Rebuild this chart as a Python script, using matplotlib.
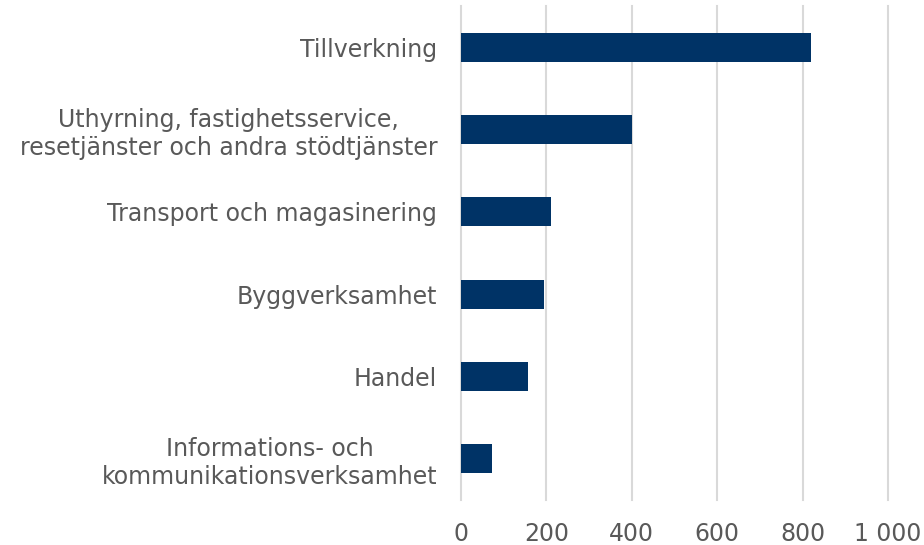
import matplotlib.pyplot as plt
import numpy as np

categories = [
    'Tillverkning',
    'Uthyrning, fastighetsservice,\nresetjänster och andra stödtjänster',
    'Transport och magasinering',
    'Byggverksamhet',
    'Handel',
    'Informations- och\nkommunikationsverksamhet',
]
values = [820, 401, 210, 195, 158, 73]
xticks = [0, 200, 400, 600, 800, 1000]
xtick_labels = ['0', '200', '400', '600', '800', '1 000']

text_col = '#595959'
bar_col = '#003366'

fig = plt.figure(figsize=(9.24, 5.45), dpi=100)
ax = fig.add_axes([0.4989, 0.0826, 0.4621, 0.9064])

y = np.arange(len(categories))
ax.barh(y, values, height=0.35, color=bar_col, zorder=3)
ax.set_ylim(len(categories) - 0.5, -0.5)
ax.set_xlim(0, 1000)

ax.set_xticks(xticks)
ax.set_xticklabels(xtick_labels, fontsize=17, color=text_col)
ax.set_yticks(y)
ax.set_yticklabels(categories, fontsize=17, color=text_col)
for t in ax.get_yticklabels():
    t.set_multialignment('center')
    t.set_linespacing(1.2)

ax.tick_params(axis='x', length=0, pad=16)
ax.tick_params(axis='y', length=0, pad=17)
ax.grid(axis='x', color='#d9d9d9', linewidth=1.5, zorder=0)
for l in ax.get_xgridlines():
    l.set_clip_on(False)
for s in ax.spines.values():
    s.set_visible(False)

fig.savefig('out.png', dpi=100)
